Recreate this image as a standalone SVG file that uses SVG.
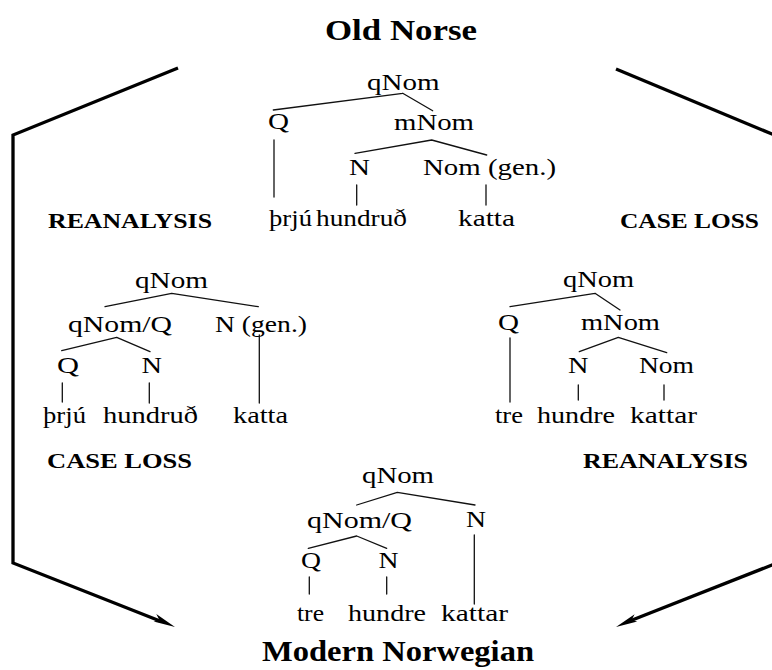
<svg xmlns="http://www.w3.org/2000/svg" width="772" height="670" viewBox="0 0 772 670">
  <defs>
    <style>
      .t { font-family: "Liberation Serif", "Times New Roman", serif; font-size: 22.5px; fill: #000; }
      .title { font-family: "Liberation Serif", "Times New Roman", serif; font-size: 30px; font-weight: bold; fill: #000; }
      .lab { font-family: "Liberation Serif", "Times New Roman", serif; font-size: 22px; font-weight: bold; fill: #000; }
      .br { stroke: #111; stroke-width: 1.3; fill: none; stroke-linecap: round; }
      .arrow { stroke: #000; stroke-width: 3.3; fill: none; stroke-linejoin: miter; }
      .head { fill: #000; stroke: none; }
    </style>
  </defs>
  <rect width="772" height="670" fill="#fff"/>

  <!-- Language stage headings -->
  <g id="old-norse-title">
    <text class="title" x="325" y="40" textLength="152" lengthAdjust="spacingAndGlyphs">Old Norse</text>
  </g>
  <g id="modern-norwegian-title">
    <text class="title" x="262" y="661" textLength="272" lengthAdjust="spacingAndGlyphs">Modern Norwegian</text>
  </g>

  <!-- Old Norse tree -->
  <g id="tree-old-norse">
    <text class="t" x="367" y="90" textLength="72.5" lengthAdjust="spacingAndGlyphs">qNom</text>
    <path class="br" d="M402.7,93.3 L273.3,110 M402.7,93.3 L432.7,110.7"/>
    <text class="t" x="268" y="129" textLength="21" lengthAdjust="spacingAndGlyphs">Q</text>
    <text class="t" x="394" y="130" textLength="80" lengthAdjust="spacingAndGlyphs">mNom</text>
    <path class="br" d="M274,140 L274,197"/>
    <path class="br" d="M431.7,140 L355,153.3 M431.7,140 L486.7,155"/>
    <text class="t" x="349" y="175" textLength="21" lengthAdjust="spacingAndGlyphs">N</text>
    <text class="t" x="423" y="175" textLength="133" lengthAdjust="spacingAndGlyphs">Nom (gen.)</text>
    <path class="br" d="M356.7,185 L356.7,205 M486,185 L486,205"/>
    <text class="t" x="269" y="226" textLength="43" lengthAdjust="spacingAndGlyphs">þrjú</text>
    <text class="t" x="316" y="226" textLength="91" lengthAdjust="spacingAndGlyphs">hundruð</text>
    <text class="t" x="458" y="226" textLength="57" lengthAdjust="spacingAndGlyphs">katta</text>
  </g>

  <!-- Reanalysed tree (left) -->
  <g id="tree-reanalysis">
    <text class="t" x="135" y="288" textLength="73" lengthAdjust="spacingAndGlyphs">qNom</text>
    <path class="br" d="M171.7,293.3 L105,306.7 M171.7,293.3 L258.3,306.7"/>
    <text class="t" x="68" y="332" textLength="104" lengthAdjust="spacingAndGlyphs">qNom/Q</text>
    <text class="t" x="215" y="332" textLength="92" lengthAdjust="spacingAndGlyphs">N (gen.)</text>
    <path class="br" d="M116.7,337.3 L61.7,350.7 M116.7,337.3 L150,351.7"/>
    <text class="t" x="57" y="373" textLength="22" lengthAdjust="spacingAndGlyphs">Q</text>
    <text class="t" x="141.5" y="373" textLength="20.5" lengthAdjust="spacingAndGlyphs">N</text>
    <path class="br" d="M62.3,383 L62.3,402 M149.3,383 L149.3,403 M259.3,335 L259.3,403"/>
    <text class="t" x="43" y="423" textLength="43" lengthAdjust="spacingAndGlyphs">þrjú</text>
    <text class="t" x="103" y="423" textLength="95" lengthAdjust="spacingAndGlyphs">hundruð</text>
    <text class="t" x="233" y="423" textLength="55" lengthAdjust="spacingAndGlyphs">katta</text>
  </g>

  <!-- Case-loss tree (right) -->
  <g id="tree-case-loss">
    <text class="t" x="563" y="287" textLength="71" lengthAdjust="spacingAndGlyphs">qNom</text>
    <path class="br" d="M595,293.3 L510,306.7 M595,293.3 L620,310"/>
    <text class="t" x="498" y="330" textLength="21" lengthAdjust="spacingAndGlyphs">Q</text>
    <text class="t" x="581" y="330" textLength="79" lengthAdjust="spacingAndGlyphs">mNom</text>
    <path class="br" d="M510,338 L510,402"/>
    <path class="br" d="M618.3,337.3 L579.3,351.7 M618.3,337.3 L666.7,352.7"/>
    <text class="t" x="568" y="373" textLength="20.5" lengthAdjust="spacingAndGlyphs">N</text>
    <text class="t" x="639" y="373" textLength="55" lengthAdjust="spacingAndGlyphs">Nom</text>
    <path class="br" d="M578.3,385 L578.3,400 M664,385 L664,400"/>
    <text class="t" x="495" y="423" textLength="28" lengthAdjust="spacingAndGlyphs">tre</text>
    <text class="t" x="537" y="423" textLength="78" lengthAdjust="spacingAndGlyphs">hundre</text>
    <text class="t" x="630" y="423" textLength="67" lengthAdjust="spacingAndGlyphs">kattar</text>
  </g>

  <!-- Modern Norwegian tree -->
  <g id="tree-modern-norwegian">
    <text class="t" x="362" y="483" textLength="72" lengthAdjust="spacingAndGlyphs">qNom</text>
    <path class="br" d="M397.3,492.3 L356.7,505 M397.3,492.3 L475,505"/>
    <text class="t" x="307" y="528" textLength="105" lengthAdjust="spacingAndGlyphs">qNom/Q</text>
    <text class="t" x="466" y="527" textLength="20" lengthAdjust="spacingAndGlyphs">N</text>
    <path class="br" d="M356.7,536 L308.3,548.3 M356.7,536 L386.7,548.3"/>
    <text class="t" x="301" y="568" textLength="20" lengthAdjust="spacingAndGlyphs">Q</text>
    <text class="t" x="378.5" y="568" textLength="20" lengthAdjust="spacingAndGlyphs">N</text>
    <path class="br" d="M309.3,577 L309.3,594 M386.7,577 L386.7,594 M474.3,535 L474.3,604"/>
    <text class="t" x="297" y="621" textLength="27" lengthAdjust="spacingAndGlyphs">tre</text>
    <text class="t" x="348" y="621" textLength="78" lengthAdjust="spacingAndGlyphs">hundre</text>
    <text class="t" x="441" y="621" textLength="67" lengthAdjust="spacingAndGlyphs">kattar</text>
  </g>

  <!-- Change paths between the stages -->
  <g id="connectors">
    <polyline class="arrow" points="178,68 13,135 13,563 160,621"/>
    <polygon class="head" points="175,627 156.3,614 159.5,620.2 153.6,621.4"/>
    <line class="arrow" x1="616" y1="69" x2="776" y2="135.7"/>
    <polyline class="arrow" points="776,563.4 631,620.5"/>
    <polygon class="head" points="616,627 634.6,614.2 631.5,620.2 637.3,621.4"/>

    <text class="lab" x="48" y="228" textLength="164" lengthAdjust="spacingAndGlyphs">REANALYSIS</text>
    <text class="lab" x="620" y="228" textLength="139" lengthAdjust="spacingAndGlyphs">CASE LOSS</text>
    <text class="lab" x="47" y="468" textLength="145" lengthAdjust="spacingAndGlyphs">CASE LOSS</text>
    <text class="lab" x="583" y="468" textLength="165" lengthAdjust="spacingAndGlyphs">REANALYSIS</text>
  </g>
</svg>
